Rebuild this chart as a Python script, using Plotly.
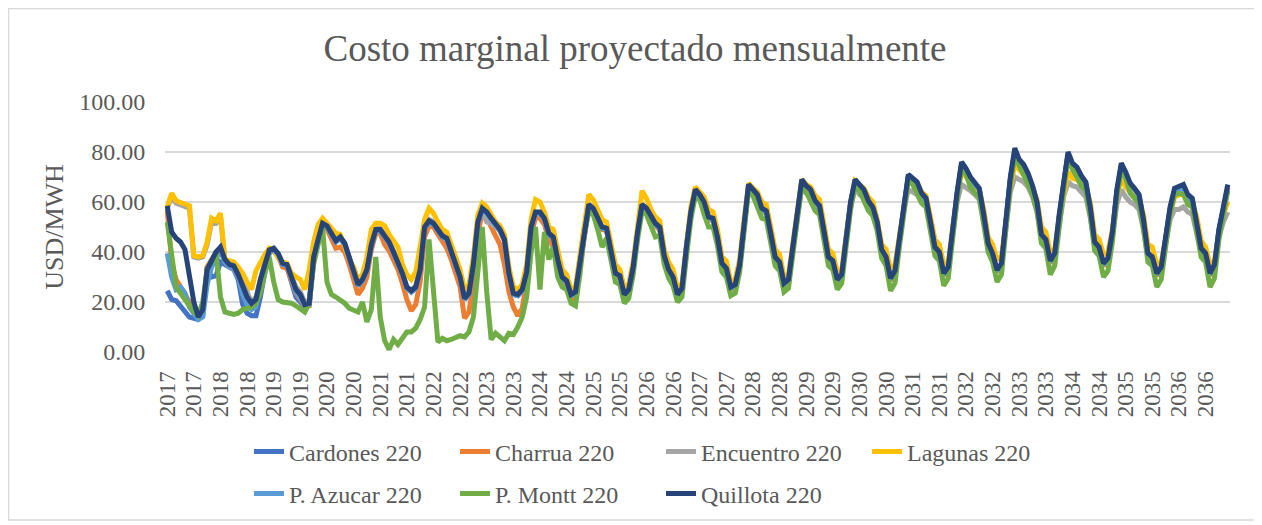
import plotly.graph_objects as go

# ---------------- data (monthly, Jan 2017 .. Dec 2036) ----------------
tick_labels = ["2017", "2017", "2018", "2018", "2019", "2019", "2020", "2020",
               "2021", "2021", "2022", "2022", "2023", "2023", "2024", "2024",
               "2025", "2025", "2026", "2026", "2027", "2027", "2028", "2028",
               "2029", "2029", "2030", "2030", "2031", "2031", "2032", "2032",
               "2033", "2033", "2034", "2034", "2035", "2035", "2036", "2036"]

cardones = [
    24.5, 21, 20.5, 18.5, 16, 14, 13.5, 13, 14.5, 34, 30, 30.5,
    36, 35, 33.5, 33, 29, 19, 15.5, 14.5, 14.5, 22, 32, 39.5,
    41, 39, 34.5, 34, 28, 22, 20, 18, 19, 37.5, 44.5, 51,
    50, 46.5, 44, 45.5, 43, 37.5, 32.5, 26.5, 28.5, 32.5, 42.5, 48.5,
    48.5, 46, 43.5, 39.5, 35.5, 31, 25.5, 24, 25.5, 32.5, 49.5, 52,
    51, 48.5, 46, 45, 40, 35, 29.5, 21, 23, 34.5, 51.5, 57,
    55.5, 53, 50.5, 48.5, 44.5, 31, 23, 22.5, 24.5, 31.5, 49.5, 55.5,
    55.5, 53, 47, 45.5, 36.5, 29.5, 28, 22.5, 23.5, 35.5, 49.5, 58.5,
    57, 53.5, 49.5, 49, 40.5, 31, 30, 22.5, 24.5, 33.5, 47.5, 58.5,
    57, 53.5, 51, 49.5, 38, 32.5, 29.5, 22.5, 25, 41.5, 55.5, 64,
    62, 59, 53.5, 53, 45.5, 35, 33, 25.5, 26.5, 34.5, 50.5, 66,
    64, 62, 57, 56, 47, 37.5, 35.5, 27, 28.5, 41.5, 55.5, 68,
    65.5, 64, 60, 58, 48, 37.5, 36, 28.5, 30.5, 46.5, 59.5, 68,
    66, 64, 60, 57.5, 51.5, 40.5, 37.5, 29, 32, 45.5, 59.5, 70,
    68.5, 67, 63, 61, 51.5, 41.5, 39.5, 31, 33.5, 49.5, 63, 75,
    72.5, 69, 67, 65, 54.5, 43, 39, 32.3, 35, 52.5, 69, 80,
    76, 74, 70.5, 66, 59.5, 46.5, 44.5, 36, 39, 54.5, 67, 79,
    74.5, 73, 70, 67.5, 57.5, 43.5, 41.5, 35, 37, 47.5, 64, 74.5,
    71, 66.5, 65, 62.5, 52.5, 39, 37.5, 31, 33.5, 44.5, 57, 64.5,
    65, 65.5, 61, 60.5, 51, 41, 39, 31, 34.5, 48.5, 57, 65,
]

charrua = [
    57, 36, 29, 26, 23, 20, 16, 14, 16, 34, 37, 39.5,
    41, 36, 34, 33.5, 30, 25, 21, 18.5, 20, 28, 34, 40,
    40.5, 38.5, 34, 33.5, 28.5, 23.5, 21, 18, 18.5, 37, 43.5, 50,
    49, 45, 41.5, 42, 40, 35, 29.5, 23, 25.5, 30, 41, 47.5,
    47.5, 43, 40.5, 37, 33, 27.5, 21, 16.5, 19, 28, 46, 50.5,
    50, 47, 44, 41.5, 37, 31.5, 26, 13.5, 16, 28, 47, 56,
    54, 50, 46, 43, 35, 24, 18, 14.5, 17.5, 28, 46, 54,
    53.5, 51, 45, 42, 34, 28, 26.5, 21, 22, 34, 48.5, 58,
    56.5, 53, 49, 48.5, 40, 30.5, 29.5, 21.5, 23.5, 33, 47, 58,
    56.5, 53, 50.5, 49, 37.5, 32, 29, 22, 24.5, 41, 55, 64,
    62, 59, 53, 52.5, 45, 34.5, 32.5, 25, 26, 34, 50, 66,
    64, 62, 56.5, 55.5, 46.5, 37, 35, 26.5, 28, 41, 55, 68,
    65.5, 64, 59.5, 57.5, 47.5, 37, 35.5, 28, 30, 46, 59, 68,
    66, 64, 59.5, 57, 51, 40, 37, 28.5, 31.5, 45, 59, 70,
    68.5, 67, 62.5, 60.5, 51, 41, 39, 30.5, 33, 49, 63, 75,
    72.5, 69, 66.5, 64.5, 54, 42.5, 38.5, 31.8, 34.5, 52, 69, 80,
    76, 74, 70.5, 65.5, 59, 46, 44, 35.5, 38.5, 54, 67, 79,
    74.5, 73, 69.5, 67, 57, 43, 41, 34.5, 36.5, 47, 64, 74.5,
    71, 66.5, 64.5, 62, 52, 38.5, 37, 30.5, 33, 44, 57, 64.5,
    65, 66, 62, 60.5, 50.5, 40.5, 38.5, 30.5, 34, 48, 57, 66,
]

encuentro = [
    57.5, 62, 59.5, 59, 58, 57.5, 38, 37.5, 38, 43, 52, 51.5,
    54, 36.5, 35.5, 35, 32, 28, 23, 20, 22, 30, 36, 41,
    41.5, 39, 35.5, 35, 30.5, 26, 24, 20, 20.5, 38.5, 45.5, 51.5,
    51, 47.5, 45, 46, 43.5, 38, 33, 27.5, 29, 33.5, 44, 49.5,
    49.5, 47, 44, 40.5, 36.5, 31.5, 26, 24.5, 26.5, 34, 51, 53,
    52, 49.5, 47, 46, 41, 36, 30.5, 22, 24, 35.5, 52.5, 56,
    52, 51.5, 50, 48.5, 44.5, 31.5, 23.5, 23, 25, 32, 50, 55.5,
    55.5, 53, 47.5, 46, 37, 30, 28.5, 23, 24, 36, 50, 58.5,
    57, 53.5, 50, 49.5, 41, 31.5, 30.5, 23, 25, 34, 48, 58.5,
    57, 53.5, 51, 49.5, 38.5, 33, 30, 23, 25.5, 42, 56, 64,
    62, 59, 53.5, 53, 45.5, 35, 33, 25.5, 26.5, 35, 50.5, 65.5,
    63, 61.5, 56.5, 55.5, 46.5, 37.5, 35.5, 27, 28.5, 41.5, 55, 66,
    63.5, 62.5, 58.5, 56.5, 47.5, 37.5, 36, 28.5, 30.5, 46, 58, 65.5,
    63, 62, 58, 56, 50, 40, 37.5, 29, 32, 45, 57, 65,
    64, 63, 60, 58, 50, 41, 39, 31, 33.5, 48, 60, 67,
    66, 64.5, 63, 61, 52, 42.5, 39, 32.3, 35, 50, 64, 70,
    69, 68, 66, 62, 56, 46, 44, 36, 39, 52, 62, 68,
    66.5, 66, 64, 62, 54, 43, 41, 35, 37, 46, 59, 65,
    62, 60, 59, 57, 49, 38.5, 37, 31, 33.5, 43, 53, 57,
    57, 58, 56, 55, 47, 40, 38.5, 31, 34, 46, 52, 56,
]

lagunas = [
    58, 63.5, 60.5, 60, 59, 58.5, 38.5, 38, 38.5, 44, 53.5, 52.5,
    55.5, 37, 36.5, 36, 34, 31.5, 28, 25, 32.5, 36, 39, 41.5,
    41, 37.5, 36, 35.5, 31.5, 30, 29, 25, 33, 44, 51, 53.5,
    51.5, 49, 47.5, 47, 42, 37, 34, 29, 31, 38, 49, 51.5,
    51.5, 50.5, 47, 44.5, 42, 35, 31, 29, 32, 42, 53, 57.5,
    55.5, 52, 49, 48, 43, 38, 33, 25, 27, 38, 55, 59.5,
    58, 55, 52, 50.5, 47, 34, 26, 25, 27, 35, 53, 61,
    60, 56, 50, 49, 40, 33, 31, 25, 26, 38, 52, 63,
    61, 57, 53, 52, 44, 35, 33, 25.5, 27, 36, 50, 64.5,
    61.5, 57, 54, 52.5, 41, 36, 33, 25.5, 27.5, 44, 58, 66,
    64, 62, 57, 56, 49, 38, 36.5, 28, 29, 37, 53, 67.5,
    65.5, 64, 60, 59, 50, 41, 39, 30, 31, 44, 57, 69,
    67, 66, 62.5, 61, 51, 41, 39.5, 32, 33, 48, 60, 68.5,
    67, 65.5, 62, 60, 53, 43, 41, 33, 35, 47, 59, 69,
    68, 67, 64, 62.5, 54, 45, 43, 35, 36, 50, 63, 72,
    70, 68, 66.5, 65, 57, 46, 43, 37, 38, 52, 66, 75,
    73, 71.5, 69, 66, 61, 50, 48, 40, 41, 54, 64, 72,
    69.5, 69, 67, 66, 60, 47, 45, 39, 40, 49, 62, 69,
    66, 64, 63, 61.5, 55, 43, 42, 35, 36, 46, 55, 62,
    63, 63.5, 61, 60, 54, 44.5, 42, 35, 36.5, 48, 55, 60,
]

p_azucar = [
    39.5, 30, 25, 26, 23.5, 18, 15.5, 13, 14, 27, 34, 37.5,
    40.5, 36, 34, 33.5, 30, 23, 19, 17, 18, 27, 34, 40,
    41, 39, 35, 34.5, 29.5, 24, 21.5, 18.5, 19, 37.5, 44.5, 51,
    50, 46.5, 44, 45.5, 43, 37.5, 32.5, 26.5, 28.5, 32.5, 42.5, 48.5,
    48.5, 46, 43.5, 39.5, 35.5, 31, 25.5, 24, 25.5, 32.5, 49.5, 52,
    51, 48.5, 46, 45, 40, 35, 29.5, 21, 23, 34.5, 51.5, 57,
    55.5, 53, 50.5, 48.5, 44.5, 31, 23, 22.5, 24.5, 31.5, 49.5, 55.5,
    55.5, 53, 47, 45.5, 36.5, 29.5, 28, 22.5, 23.5, 35.5, 49.5, 58.5,
    57, 53.5, 49.5, 49, 40.5, 31, 30, 22.5, 24.5, 33.5, 47.5, 58.5,
    57, 53.5, 51, 49.5, 38, 32.5, 29.5, 22.5, 25, 41.5, 55.5, 64,
    62, 59, 53.5, 53, 45.5, 35, 33, 25.5, 26.5, 34.5, 50.5, 66,
    64, 62, 57, 56, 47, 37.5, 35.5, 27, 28.5, 41.5, 55.5, 68,
    65.5, 64, 60, 58, 48, 37.5, 36, 28.5, 30.5, 46.5, 59.5, 68,
    66, 64, 60, 57.5, 51.5, 40.5, 37.5, 29, 32, 45.5, 59.5, 70,
    68.5, 67, 63, 61, 51.5, 41.5, 39.5, 31, 33.5, 49.5, 63, 75,
    72.5, 69, 67, 65, 54.5, 43, 39, 32.3, 35, 52.5, 69, 80,
    76, 74, 70.5, 66, 59.5, 46.5, 44.5, 36, 39, 54.5, 67, 79,
    74.5, 73, 70, 67.5, 57.5, 43.5, 41.5, 35, 37, 47.5, 64, 74.5,
    71, 66.5, 65, 62.5, 52.5, 39, 37.5, 31, 33.5, 44.5, 57, 64.5,
    65, 65.5, 61, 60.5, 51, 41, 39, 31, 34.5, 48.5, 57, 65,
]

p_montt = [
    52, 38, 26, 23.5, 21, 18, 16, 14.5, 20, 33, 37, 40,
    22, 16, 15.5, 15, 15.5, 17, 17.5, 18, 19.5, 23.5, 31.5, 38,
    28, 21, 20, 20, 19.5, 18.5, 17, 16, 19.5, 35, 43, 50,
    28, 23, 22, 21, 19.5, 17.5, 16.5, 16, 20, 12, 17, 38,
    14, 4.5, 1, 5, 3, 5.5, 8, 8, 9.5, 13, 18, 45,
    22, 4, 5.5, 4.5, 5, 5.5, 6.5, 6, 8, 14, 33, 50,
    24, 5, 7.5, 6, 4.5, 7.5, 7, 10, 14, 22, 40, 50,
    25, 48, 37, 42, 30, 26, 25, 19.5, 18.5, 31, 47, 56,
    55, 49, 42, 45.5, 37, 28, 27, 19.5, 21.5, 31, 45, 56.5,
    55, 50, 46, 46.5, 35, 29.5, 26.5, 20, 22, 38, 53, 62.5,
    61, 55, 50, 50, 42.5, 32, 30, 22.5, 23.5, 32, 48, 64.5,
    62.5, 58.5, 53.5, 53, 44, 34.5, 32.5, 24, 25.5, 39, 53, 66.5,
    64, 60.5, 56.5, 55, 45, 34.5, 33, 25, 27.5, 44, 57, 66.5,
    64.5, 60.5, 56.5, 54.5, 48.5, 37.5, 34.5, 24.5, 27.5, 42, 57, 68.5,
    67, 63.5, 59.5, 58, 48.5, 38.5, 36.5, 26.5, 29.5, 46, 61, 73.5,
    71, 66, 63.5, 62, 51.5, 40, 36, 28, 31, 49, 67, 78.5,
    74.5, 71, 67.5, 63, 56.5, 43.5, 41.5, 31, 34.5, 51, 65, 77.5,
    73, 70, 66.5, 64.5, 54.5, 40.5, 38.5, 30, 32.5, 44, 62, 73,
    69.5, 63.5, 61.5, 59.5, 49.5, 36, 34.5, 26, 29, 41, 55, 63,
    63.5, 63, 59, 58, 48, 38, 36, 26, 29.5, 45, 55, 64.5,
]

quillota = [
    58.5, 48, 45.5, 44, 41, 30, 20, 14, 17, 33, 37, 40,
    42, 37, 35, 34.5, 31, 26, 22, 19.5, 21, 29, 35, 40.8,
    41.5, 39.5, 35.5, 35, 30, 25, 23, 19, 19.5, 38, 45, 51.5,
    50.5, 47, 44.5, 46, 43.5, 38, 33, 27, 29, 33, 43, 49,
    49, 46.5, 44, 40, 36, 31.5, 26, 24.5, 26, 33, 50, 52.5,
    51.5, 49, 46.5, 45.5, 40.5, 35.5, 30, 21.5, 23.5, 35, 52, 57.5,
    56, 53.5, 51, 49, 45, 31.5, 23.5, 23, 25, 32, 50, 56,
    56, 53.5, 47.5, 46, 37, 30, 28.5, 23, 24, 36, 50, 59,
    57.5, 54, 50, 49.5, 41, 31.5, 30.5, 23, 25, 34, 48, 59,
    57.5, 54, 51.5, 50, 38.5, 33, 30, 23, 25.5, 42, 56, 65,
    63, 60, 54, 53.5, 46, 35.5, 33.5, 26, 27, 35, 51, 67,
    65, 63, 57.5, 56.5, 47.5, 38, 36, 27.5, 29, 42, 56, 69,
    66.5, 65, 60.5, 58.5, 48.5, 38, 36.5, 29, 31, 47, 60, 69,
    67, 65, 60.5, 58, 52, 41, 38, 29.5, 32.5, 46, 60, 71,
    69.5, 68, 63.5, 61.5, 52, 42, 40, 31.5, 34, 50, 64, 76,
    73.5, 70, 67.5, 65.5, 55, 43.5, 39.5, 32.8, 35.5, 53, 70, 81.5,
    77, 75, 71.5, 66.5, 60, 47, 45, 36.5, 39.5, 55, 68, 80,
    75.5, 74, 70.5, 68, 58, 44, 42, 35.5, 37.5, 48, 65, 75.5,
    72, 67.5, 65.5, 63, 53, 39.5, 38, 31.5, 34, 45, 58, 65.5,
    66, 67, 63, 61.5, 51.5, 41.5, 39.5, 31.5, 35, 49, 58, 67,
]

series_names = ["Cardones 220", "Charrua 220", "Encuentro 220", "Lagunas 220",
                "P. Azucar 220", "P. Montt 220", "Quillota 220"]
series_values = [cardones, charrua, encuentro, lagunas, p_azucar, p_montt, quillota]
series_colors = ["#4472C4", "#ED7D31", "#A5A5A5", "#FFC000",
                 "#5B9BD5", "#70AD47", "#264478"]
series_legend = ["legend", "legend", "legend", "legend", "legend2", "legend2", "legend2"]

# ---------------- figure ----------------
FONT = "Liberation Serif, Times New Roman, serif"
TXT = "#595959"

months = list(range(len(quillota)))
tick_positions = months[::6]

fig = go.Figure()
for name, vals, col, lg in zip(series_names, series_values, series_colors, series_legend):
    fig.add_trace(go.Scatter(
        x=months, y=vals, mode="lines", name=name,
        line=dict(color=col, width=5),
        legend=lg,
    ))

# the page body has an 8px margin, so the figure is drawn 8px smaller and
# all reference pixel positions are shifted by OFF
OFF = 8
W, H = 1262 - OFF, 525 - OFF
L, T = 165 - OFF, 102 - OFF
pw, ph = 1065, 250
R, B = W - L - pw, H - T - ph


def px_x(p):
    return (p - OFF - L) / pw


def px_y(p):
    return (T + ph - (p - OFF)) / ph


fig.update_layout(
    width=W, height=H,
    margin=dict(l=L, r=R, t=T, b=B, autoexpand=False),
    paper_bgcolor="white", plot_bgcolor="white",
    font=dict(family=FONT, color=TXT, size=22),
    title=dict(text="Costo marginal proyectado mensualmente",
               x=0.5, xref="container", xanchor="center",
               y=1 - (48 - OFF) / H, yref="container", yanchor="middle",
               font=dict(family=FONT, size=37, color=TXT)),
    xaxis=dict(
        range=[-0.5, len(months) - 0.5],
        tickmode="array", tickvals=tick_positions, ticktext=tick_labels,
        tickangle=-90, tickfont=dict(family=FONT, size=23, color=TXT),
        showgrid=False, zeroline=False, showline=False,
        ticks="outside", ticklen=9, tickcolor="rgba(0,0,0,0)",
    ),
    yaxis=dict(
        range=[0, 100], tickmode="array",
        tickvals=[0, 20, 40, 60, 80, 100], tickformat=".2f",
        tickfont=dict(family=FONT, size=24, color=TXT),
        showgrid=True, gridcolor="#D9D9D9", gridwidth=1.5,
        zeroline=False, showline=False,
        ticks="outside", ticklen=14, tickcolor="rgba(0,0,0,0)",
        title=dict(text="USD/MWH", font=dict(family=FONT, size=26, color=TXT),
                   standoff=8),
    ),
    legend=dict(orientation="h", x=px_x(249), xanchor="left",
                y=px_y(452), yanchor="middle",
                font=dict(family=FONT, size=24, color=TXT),
                entrywidth=161, bgcolor="rgba(0,0,0,0)"),
    legend2=dict(orientation="h", x=px_x(249), xanchor="left",
                 y=px_y(494), yanchor="middle",
                 font=dict(family=FONT, size=24, color=TXT),
                 entrywidth=161, bgcolor="rgba(0,0,0,0)"),
    shapes=[dict(type="rect", xref="paper", yref="paper",
                 x0=px_x(8.5), x1=px_x(1257), y0=px_y(520), y1=px_y(8.5),
                 line=dict(color="#D9D9D9", width=1.5), fillcolor="rgba(0,0,0,0)",
                 layer="below")],
    showlegend=True,
)

fig.write_html("out.html")
